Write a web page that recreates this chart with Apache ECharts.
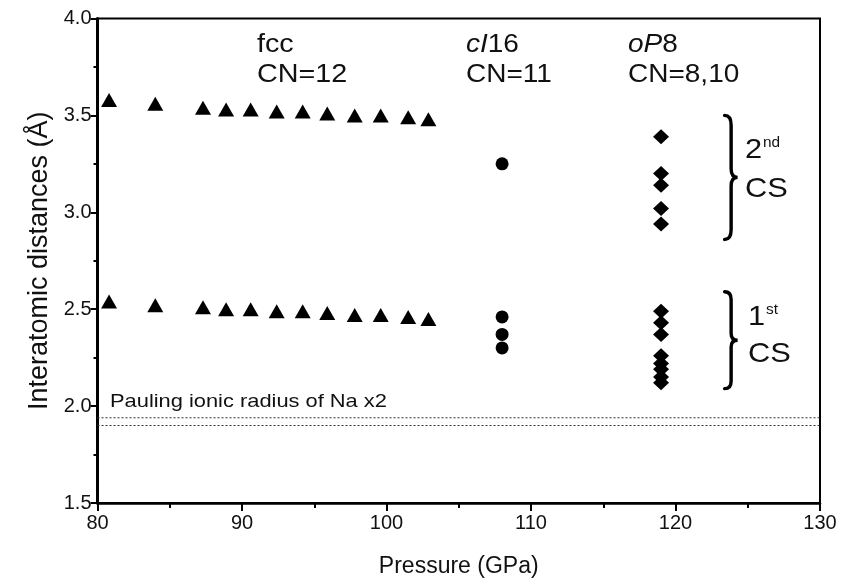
<!DOCTYPE html>
<html>
<head>
<meta charset="utf-8">
<script src="https://cdn.jsdelivr.net/npm/echarts@6/dist/echarts.min.js"></script>
<style>
html, body { margin: 0; padding: 0; background: #fff; }
#chart { width: 842px; height: 579px; }
</style>
</head>
<body>
<div id="chart"></div>
<script>
// fcc: pressures and the two coordination-shell distances
var fccP = [80.8, 84.0, 87.3, 88.9, 90.6, 92.4, 94.2, 95.9, 97.8, 99.6, 101.5, 102.9];
var fcc2nd = [3.58, 3.56, 3.54, 3.53, 3.53, 3.52, 3.52, 3.51, 3.50, 3.50, 3.49, 3.48];
var fcc1st = [2.54, 2.52, 2.51, 2.50, 2.50, 2.49, 2.49, 2.48, 2.47, 2.47, 2.46, 2.45];
// cI16 at 108 GPa
var ci16P = 108;
var ci16D = [3.25, 2.46, 2.37, 2.30];
// oP8 at 119 GPa
var op8P = 119;
var op8D = [3.39, 3.20, 3.14, 3.02, 2.94, 2.49, 2.43, 2.37, 2.26, 2.22, 2.19, 2.15, 2.12];
// Pauling ionic radius of Na x2 (two dotted levels)
var paulingLevels = [1.94, 1.90];
var xRange = [80, 130];
// braces: [x left, x tip, top, bottom]
var braceX0 = [123.4, 123.4];
var braceX1 = [124.3, 124.3];
var braceTop = [3.50, 2.59];
var braceBottom = [2.86, 2.09];

var font = '"Liberation Sans", Arial, sans-serif';
var chart = echarts.init(document.getElementById('chart'));

function pairs(xs, ys) {
    var out = [];
    for (var i = 0; i < ys.length; i++) {
        out.push([Array.isArray(xs) ? xs[i] : xs, ys[i]]);
    }
    return out;
}

var braceData = [];
for (var b = 0; b < braceTop.length; b++) {
    braceData.push([braceX0[b], braceX1[b], braceTop[b], braceBottom[b]]);
}

var dot = {color: '#000', opacity: 1};
var series = [
    {type: 'scatter', symbol: 'triangle', symbolSize: [16, 14], itemStyle: dot,
        data: pairs(fccP, fcc2nd), silent: true},
    {type: 'scatter', symbol: 'triangle', symbolSize: [16, 14], itemStyle: dot,
        data: pairs(fccP, fcc1st), silent: true},
    {type: 'scatter', symbol: 'circle', symbolSize: 13, itemStyle: dot,
        data: pairs(ci16P, ci16D), silent: true},
    {type: 'scatter', symbol: 'diamond', symbolSize: [16, 15], itemStyle: dot,
        data: pairs(op8P, op8D), silent: true},
    {
        type: 'custom',
        silent: true,
        data: braceData,
        renderItem: function (params, api) {
            var top = api.coord([api.value(0), api.value(2)]);
            var bot = api.coord([api.value(1), api.value(3)]);
            var x0 = top[0], x1 = bot[0], y0 = top[1], y1 = bot[1];
            var xm = (x0 + x1) / 2, ym = (y0 + y1) / 2, h = y1 - y0;
            var d = 'M' + x0 + ',' + y0 +
                ' Q' + xm + ',' + y0 + ' ' + xm + ',' + (y0 + h * 0.08) +
                ' L' + xm + ',' + (ym - h * 0.07) +
                ' Q' + xm + ',' + ym + ' ' + x1 + ',' + ym +
                ' Q' + xm + ',' + ym + ' ' + xm + ',' + (ym + h * 0.07) +
                ' L' + xm + ',' + (y1 - h * 0.08) +
                ' Q' + xm + ',' + y1 + ' ' + x0 + ',' + y1;
            return {
                type: 'path',
                shape: {pathData: d},
                style: {stroke: '#000', fill: null, lineWidth: 3.4, lineCap: 'round'}
            };
        }
    }
];
paulingLevels.forEach(function (lv) {
    series.push({
        type: 'line', silent: true, symbol: 'none',
        data: [[xRange[0], lv], [xRange[1], lv]],
        lineStyle: {color: '#333', width: 1.2, type: [2, 2]}
    });
});

function label(text, left, top, size, sx, rich) {
    var st = {text: text, fontSize: size, fill: '#111', fontFamily: font};
    if (rich) st.rich = rich;
    return {type: 'text', left: left, top: top, scaleX: sx, style: st};
}
var italic = {i: {fontStyle: 'italic', fontSize: 25, fontFamily: font, color: '#111'}};

var option = {
    animation: false,
    grid: {
        left: 97.5, right: 22, top: 18.5, bottom: 76,
        outerBoundsMode: 'none', containLabel: false,
        show: true, borderColor: '#000', borderWidth: 2, backgroundColor: 'transparent'
    },
    xAxis: {
        type: 'value', min: 80, max: 130, interval: 10,
        name: 'Pressure (GPa)', nameLocation: 'middle', nameGap: 52,
        nameTextStyle: {fontSize: 23, color: '#111', fontFamily: font},
        axisLine: {show: true, lineStyle: {color: '#000', width: 2.5}},
        axisTick: {show: true, length: 8, lineStyle: {color: '#000', width: 2}},
        minorTick: {show: true, splitNumber: 2, length: 5, lineStyle: {color: '#000', width: 2}},
        axisLabel: {fontSize: 20, color: '#111', fontFamily: font, margin: 10},
        splitLine: {show: false}
    },
    yAxis: {
        type: 'value', min: 1.5, max: 4.0, interval: 0.5,
        name: 'Interatomic distances (Å)', nameLocation: 'middle', nameGap: 41,
        nameTextStyle: {fontSize: 27, color: '#111', fontFamily: font},
        axisLine: {show: true, lineStyle: {color: '#000', width: 3}},
        axisTick: {show: true, length: 7, lineStyle: {color: '#000', width: 2}},
        minorTick: {show: true, splitNumber: 2, length: 4, lineStyle: {color: '#000', width: 2}},
        axisLabel: {fontSize: 20, color: '#111', fontFamily: font, margin: 6,
            formatter: function (v) { return v.toFixed(1); }},
        splitLine: {show: false}
    },
    graphic: [
        label('fcc', 257, 33, 25, 1.15),
        label('CN=12', 257, 63, 25, 1.15),
        label('{i|cI}16', 466, 33, 25, 1.12, italic),
        label('CN=11', 466, 63, 25, 1.12),
        label('{i|oP}8', 628, 33, 25, 1.12, italic),
        label('CN=8,10', 628, 63, 25, 1.12),
        label('2', 745, 136, 28, 1.1),
        label('nd', 763, 136, 14, 1.1),
        label('CS', 745, 175, 28, 1.1),
        label('1', 748, 303, 28, 1.1),
        label('st', 766, 303, 14, 1.1),
        label('CS', 748, 340, 28, 1.1),
        label('Pauling ionic radius of Na x2', 110, 392, 19, 1.15)
    ],
    series: series
};
chart.setOption(option);
</script>
</body>
</html>
